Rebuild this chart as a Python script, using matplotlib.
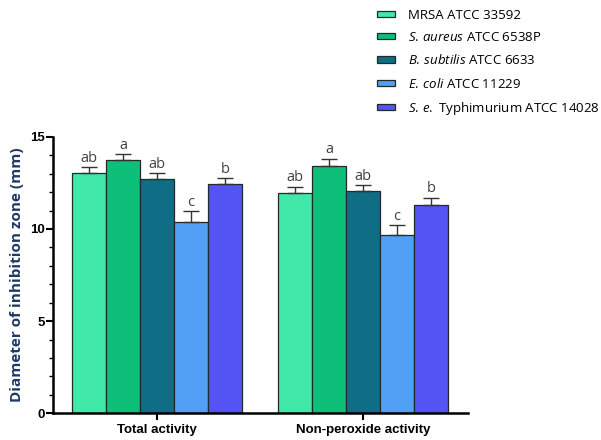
import matplotlib.pyplot as plt
import numpy as np

plt.rcParams['mathtext.fontset'] = 'custom'
plt.rcParams['mathtext.rm'] = 'Open Sans'
plt.rcParams['mathtext.it'] = 'Open Sans:italic'

# data
groups = ['Total activity', 'Non-peroxide activity']
strains = [r'MRSA ATCC 33592',
           r'$\it{S.\,aureus}$ ATCC 6538P',
           r'$\it{B.\,subtilis}$ ATCC 6633',
           r'$\it{E.\,coli}$ ATCC 11229',
           r'$\it{S.\,e.}$ Typhimurium ATCC 14028']
total_vals = [13.02, 13.74, 12.71, 10.37, 12.42]
total_err = [0.33, 0.33, 0.33, 0.60, 0.33]
nonperox_vals = [11.93, 13.43, 12.07, 9.65, 11.30]
nonperox_err = [0.36, 0.38, 0.31, 0.55, 0.40]
total_letters = ['ab', 'a', 'ab', 'c', 'b']
nonperox_letters = ['ab', 'a', 'ab', 'c', 'b']
colors = ['#42E8AA', '#0EBF7A', '#0F6E85', '#52A0F5', '#5454F5']

vals = np.array([total_vals, nonperox_vals])
errs = np.array([total_err, nonperox_err])
letters = [total_letters, nonperox_letters]

fig = plt.figure(figsize=(6.01, 4.40), dpi=100)
ax = fig.add_axes([0.0882, 0.0607, 0.6905, 0.6283])

x = np.arange(len(groups))
width = 0.165
for i in range(len(strains)):
    pos = x + (i - 2) * width
    ax.bar(pos, vals[:, i], width, color=colors[i], edgecolor='#1f2a2a',
           linewidth=0.9, label=strains[i], zorder=2)
    ax.errorbar(pos, vals[:, i], yerr=[np.zeros(2), errs[:, i]], fmt='none',
                ecolor='#333333', elinewidth=1.0, capsize=5.5, capthick=1.0, zorder=3)
    for j in range(len(groups)):
        ax.annotate(letters[j][i], xy=(pos[j], vals[j, i] + errs[j, i]),
                    xytext=(0, 1), textcoords='offset points',
                    ha='center', va='bottom', fontsize=10.5,
                    family='Open Sans', color='#404040')

ax.set_xlim(-0.505, 1.51)
ax.set_ylim(0, 15)
ax.set_yticks([0, 5, 10, 15])
ax.set_yticks(np.arange(0, 16, 1), minor=True)
ax.set_xticks(x)
ax.set_xticklabels(groups, fontsize=9.5, fontweight='bold', family='Liberation Sans')
for lab in ax.get_yticklabels():
    lab.set_fontsize(9.5)
    lab.set_fontweight('bold')
    lab.set_family('Liberation Sans')
ax.tick_params(axis='y', which='major', length=5, width=1.5, pad=1)
ax.tick_params(axis='y', which='minor', length=3, width=1.0)
ax.tick_params(axis='x', which='major', length=5, width=1.5, pad=3)
ax.spines['top'].set_visible(False)
ax.spines['right'].set_visible(False)
ax.spines['left'].set_linewidth(1.8)
ax.spines['bottom'].set_linewidth(1.8)

ax.set_ylabel('Diameter of inhibition zone (mm)', fontsize=11, fontweight='bold',
              family='Open Sans', color='#1F3864', labelpad=4)

fig.legend(loc='upper left', bbox_to_anchor=(0.627, 0.98), frameon=False,
           prop={'family': 'Open Sans', 'size': 9.5}, borderpad=0, borderaxespad=0,
           handlelength=1.4, handleheight=0.35, handletextpad=1.0, labelspacing=0.7)

plt.savefig('out.png', dpi=100)
plt.close()
